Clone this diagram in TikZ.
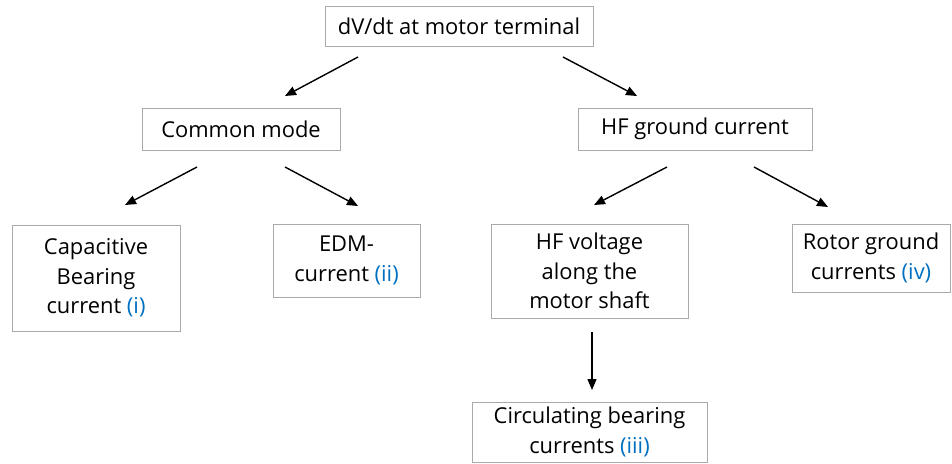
\documentclass[tikz,border=0pt]{standalone}
\usepackage{fontspec}
\setmainfont{Open Sans}
\usetikzlibrary{arrows.meta}
\definecolor{refblue}{RGB}{0,112,192}
\definecolor{boxgray}{RGB}{170,170,170}
\newcommand{\rn}[1]{\textcolor{refblue}{#1}}
\begin{document}
\begin{tikzpicture}[x=1pt,y=-1pt,
  box/.style={draw=boxgray, line width=0.9pt, fill=white, align=center, inner sep=0pt,
    font=\fontsize{21.9}{29.5}\selectfont},
  arr/.style={-{Triangle[length=11pt,width=9pt]}, line width=1.4pt, black}]
\useasboundingbox (0,0) rectangle (952,463);
\node[box, minimum width=268pt, minimum height=40pt] (top) at (459,26) {dV/dt at motor terminal};
\node[box, minimum width=198pt, minimum height=42pt] (cm) at (241,129) {Common mode};
\node[box, minimum width=234pt, minimum height=42pt] (hf) at (695,129) {HF ground current};
\node[box, minimum width=168pt, minimum height=106pt] (cap) at (96,278) {Capacitive\\Bearing\\current \rn{(i)}};
\node[box, minimum width=147pt, minimum height=73pt] (edm) at (346.5,260.5) {EDM-\\current \rn{(ii)}};
\node[box, minimum width=197pt, minimum height=94pt] (hfv) at (589.5,271) {HF voltage\\along the\\motor shaft};
\node[box, minimum width=158pt, minimum height=68pt] (rot) at (871,258) {Rotor ground\\currents \rn{(iv)}};
\node[box, minimum width=235pt, minimum height=60pt] (circ) at (589.5,432) {Circulating bearing\\currents \rn{(iii)}};
% arrow end points
\coordinate (a1s) at (358,57);  \coordinate (a1e) at (285,96);
\coordinate (a2s) at (563,57);  \coordinate (a2e) at (637,96);
\coordinate (a3s) at (197,167); \coordinate (a3e) at (125,205);
\coordinate (a4s) at (285,167); \coordinate (a4e) at (358,206);
\coordinate (a5s) at (667,167); \coordinate (a5e) at (594,205);
\coordinate (a6s) at (754,167); \coordinate (a6e) at (828,207);
\coordinate (a7s) at (592,332); \coordinate (a7e) at (592,390);
\draw[arr] (a1s) -- (a1e);
\draw[arr] (a2s) -- (a2e);
\draw[arr] (a3s) -- (a3e);
\draw[arr] (a4s) -- (a4e);
\draw[arr] (a5s) -- (a5e);
\draw[arr] (a6s) -- (a6e);
\draw[arr] (a7s) -- (a7e);
\end{tikzpicture}
\end{document}
